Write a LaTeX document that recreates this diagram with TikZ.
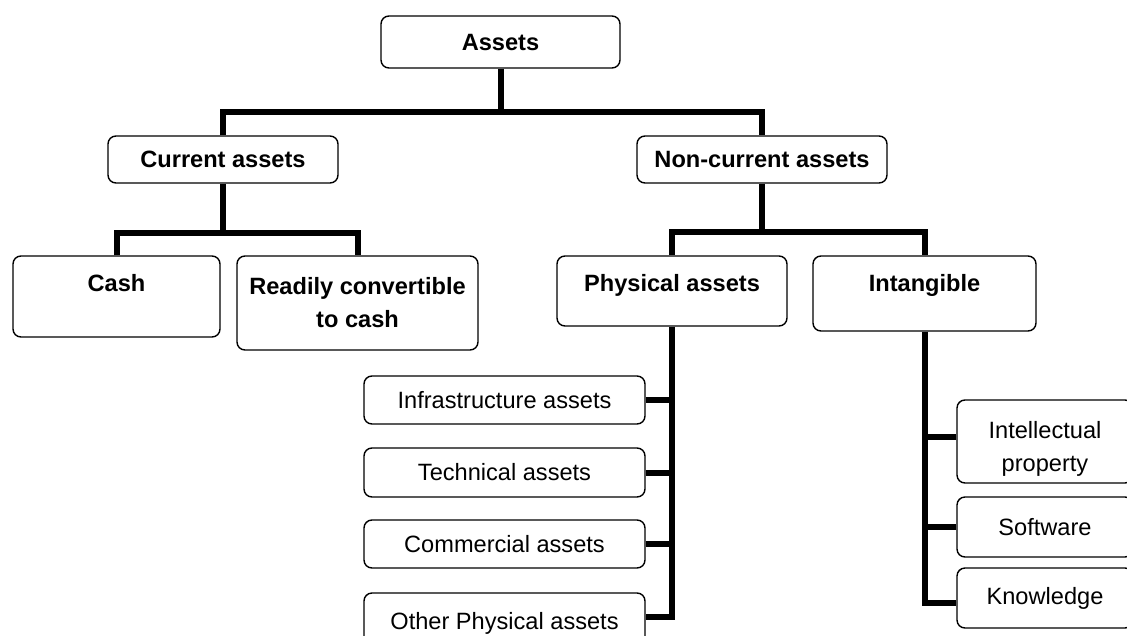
\documentclass[tikz,border=0pt]{standalone}
\usepackage{fontspec}
\setmainfont{Liberation Sans}
\begin{document}
\begin{tikzpicture}[x=1pt,y=-1pt,
  box/.style={draw, line width=1.4pt, rounded corners=8pt, inner sep=0pt, align=center,
              font=\fontsize{23.6}{33}\selectfont},
  bbox/.style={box, font=\fontsize{23.6}{33}\selectfont\bfseries},
  conn/.style={line width=6pt}]
\clip (0,0) rectangle (1127,635);
\fill[white] (0,0) rectangle (1127,635);
% level 0 and 1
\node[bbox, minimum width=239pt, minimum height=52pt] (assets) at (500.5,42) {Assets};
\node[bbox, minimum width=230pt, minimum height=47pt] (cur) at (223,159.5) {Current assets};
\node[bbox, minimum width=250pt, minimum height=47pt] (noncur) at (762,159.5) {Non-current assets};
% level 2
\node[bbox, minimum width=207pt, text height=35.5pt, text depth=45.5pt] (cash) at (116.5,296.5) {Cash};
\node[bbox, minimum width=241pt, minimum height=94pt] (ready) at (357.5,303) {Readily convertible\\to cash};
\node[bbox, minimum width=230pt, text height=35.5pt, text depth=34.5pt] (phys) at (672,291) {Physical assets};
\node[bbox, minimum width=223pt, text height=35.5pt, text depth=39.5pt] (intang) at (924.5,293.5) {Intangible};
% physical leaves
\node[box, minimum width=281pt, minimum height=48pt] (infra) at (504.5,400) {Infrastructure assets};
\node[box, minimum width=281pt, minimum height=49pt] (tech) at (504.5,472.5) {Technical assets};
\node[box, minimum width=281pt, minimum height=48pt] (comm) at (504.5,544) {Commercial assets};
\node[box, minimum width=281pt, minimum height=60pt] (other) at (504.5,623) {Other Physical assets};
% intangible leaves
\node[box, minimum width=176pt, minimum height=83pt] (intel) at (1045,441.5) {\rule{0pt}{31pt}Intellectual\\property};
\node[box, minimum width=176pt, minimum height=60pt] (soft) at (1045,527) {Software};
\node[box, minimum width=176pt, minimum height=60pt] (know) at (1045,598) {Knowledge};
% connectors
\coordinate (j1) at (500.5,112);
\draw[conn] (assets.south) -- (j1);
\draw[conn] (cur.north) |- (j1) -| (noncur.north);
\coordinate (j2) at (223,233);
\draw[conn] (cur.south) -- (j2);
\draw[conn] (cash.north) |- (j2) -| (ready.north);
\coordinate (j3) at (762,232);
\draw[conn] (noncur.south) -- (j3);
\draw[conn] (phys.north) |- (j3) -| (intang.north);
\draw[conn] (phys.south) |- ([yshift=6pt]other.east);
\draw[conn] (infra.east) -- (infra.east -| phys.south);
\draw[conn] (tech.east) -- (tech.east -| phys.south);
\draw[conn] (comm.east) -- (comm.east -| phys.south);
\draw[conn] (intang.south) |- ([yshift=-5pt]know.west);
\draw[conn] ([yshift=4.5pt]intel.west) -- ([yshift=4.5pt]intel.west -| intang.south);
\draw[conn] (soft.west) -- (soft.west -| intang.south);
\end{tikzpicture}
\end{document}
